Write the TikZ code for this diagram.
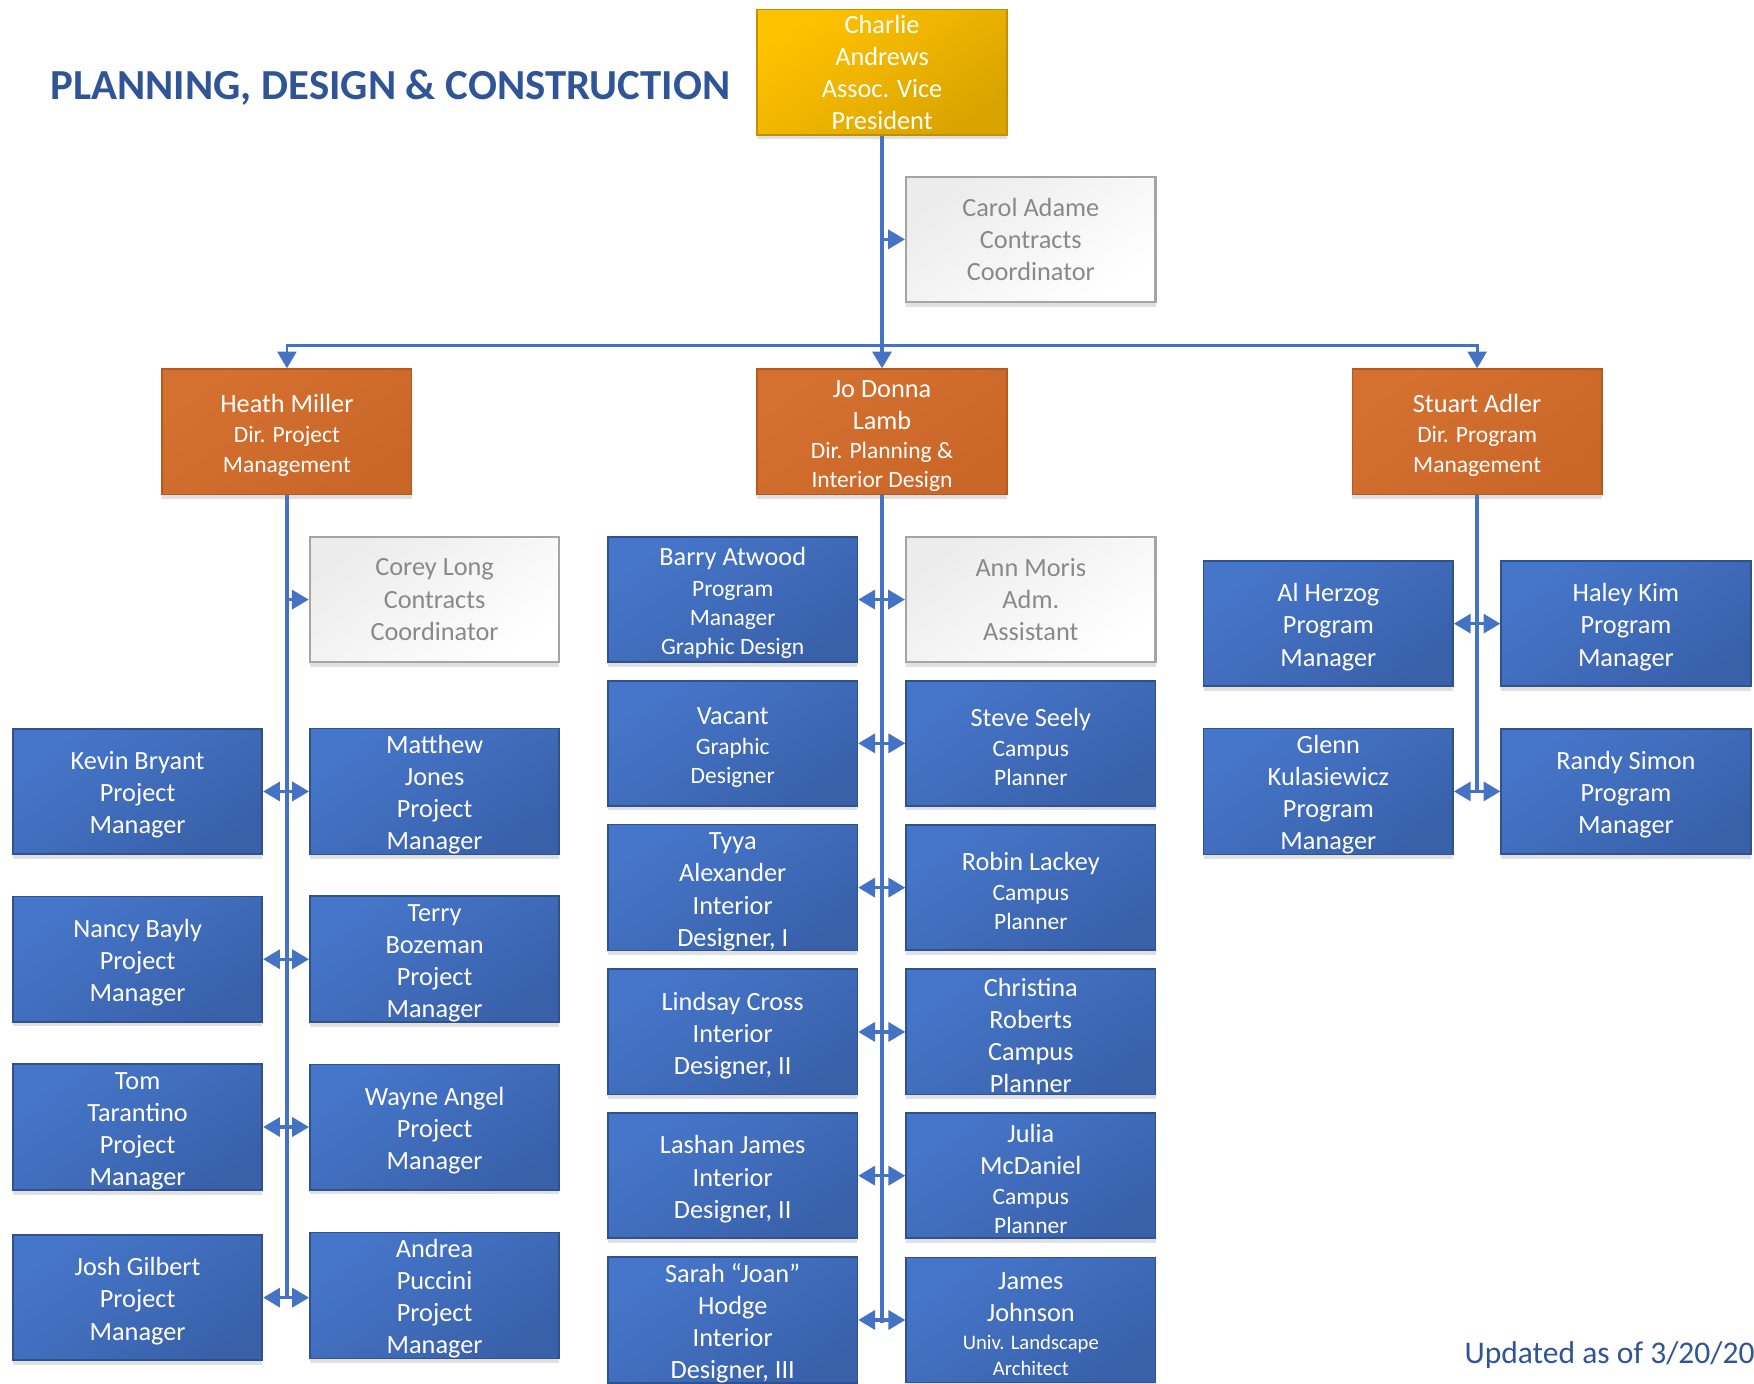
\documentclass[tikz,border=0pt]{standalone}
\usepackage{fontspec}
\setmainfont{Carlito}
\usetikzlibrary{arrows.meta,shadows}
\definecolor{lineblue}{RGB}{68,114,196}
\definecolor{bluetop}{RGB}{70,118,202}
\definecolor{bluebot}{RGB}{57,97,170}
\definecolor{blueedge}{RGB}{47,82,143}
\definecolor{orgtop}{RGB}{212,112,48}
\definecolor{orgbot}{RGB}{202,103,40}
\definecolor{orgedge}{RGB}{182,89,30}
\definecolor{goldtop}{RGB}{255,194,0}
\definecolor{goldbot}{RGB}{218,164,0}
\definecolor{goldedge}{RGB}{191,144,0}
\definecolor{graytop}{RGB}{236,236,236}
\definecolor{graybot}{RGB}{255,255,255}
\definecolor{grayedge}{RGB}{165,165,165}
\definecolor{graytext}{RGB}{137,137,137}
\definecolor{titleblue}{RGB}{47,85,151}
\newcommand\bigf{\fontsize{23.5}{28.7}\selectfont}
\newcommand\smf{\fontsize{21}{26}\selectfont}
\newcommand\tnf{\fontsize{18.5}{23}\selectfont}
\newcommand\up{\rule{0pt}{22.5pt}}
\tikzset{
  basebox/.style={rectangle, minimum width=223pt, minimum height=112pt, inner sep=0pt,
    align=center, font=\bigf, line width=1.5pt,
    drop shadow={shadow xshift=0pt, shadow yshift=-4pt, opacity=0.12, fill=black}},
  bluebox/.style={basebox, draw=blueedge, top color=bluetop, bottom color=bluebot, shading angle=35, text=white},
  orangebox/.style={basebox, draw=orgedge, top color=orgtop, bottom color=orgbot, shading angle=35, text=white},
  goldbox/.style={basebox, draw=goldedge, top color=goldtop, bottom color=goldbot, shading angle=35, text=white},
  graybox/.style={basebox, draw=grayedge, line width=2pt, top color=graytop, bottom color=graybot, shading angle=35, text=graytext, drop shadow={opacity=0}},
  conn/.style={draw=lineblue, line width=3pt},
  hconn/.style={draw=lineblue, line width=2.4pt},
  >={Triangle[length=15pt,width=17pt]}
}
\begin{document}
\begin{tikzpicture}[x=1pt,y=-1pt]
\useasboundingbox (0,0) rectangle (1568,1237);

\node[anchor=west, font=\fontsize{38.3}{46}\selectfont\bfseries, text=titleblue, inner sep=0pt] (title) at (45,78) {PLANNING, DESIGN \& CONSTRUCTION};
\node[anchor=west, font=\fontsize{28.2}{34}\selectfont, text=titleblue, inner sep=0pt] (updated) at (1309,1211) {Updated as of 3/20/20};

% top
\node[goldbox] (charlie) at (788.5,64.5) {Charlie\\Andrews\\Assoc. Vice\\President};
\node[graybox] (carol) at (921.5,214) {Carol Adame\\Contracts\\Coordinator};

% directors
\node[orangebox] (heath) at (256.5,386) {\up Heath Miller\\[-1.7pt]\smf Dir. Project\\[-2.7pt]\smf Management};
\node[orangebox] (jodonna) at (788.5,386) {\up Jo Donna\\Lamb\\[-2.7pt]\smf Dir. Planning \&\\[-2.7pt]\smf Interior Design};
\node[orangebox] (stuart) at (1320.5,386) {\up Stuart Adler\\[-1.7pt]\smf Dir. Program\\[-2.7pt]\smf Management};

% left column
\node[graybox] (corey) at (388.5,536) {Corey Long\\Contracts\\Coordinator};
\node[bluebox] (kevin) at (123,707.5) {\up Kevin Bryant\\Project\\Manager};
\node[bluebox] (matthew) at (388.5,707.5) {\up Matthew\\Jones\\Project\\Manager};
\node[bluebox] (nancy) at (123,857.5) {\up Nancy Bayly\\Project\\Manager};
\node[bluebox] (terry) at (388.5,857.5) {\up Terry\\Bozeman\\Project\\Manager};
\node[bluebox] (tom) at (123,1007.5) {\up Tom\\Tarantino\\Project\\Manager};
\node[bluebox] (wayne) at (388.5,1007.5) {\up Wayne Angel\\Project\\Manager};
\node[bluebox] (josh) at (123,1160) {\up Josh Gilbert\\Project\\Manager};
\node[bluebox] (andrea) at (388.5,1158) {\up Andrea\\Puccini\\Project\\Manager};

% middle column
\node[bluebox] (barry) at (655,536) {\up Barry Atwood\\[-1.7pt]\smf Program\\[-2.7pt]\smf Manager\\[-2.7pt]\smf Graphic Design};
\node[graybox] (ann) at (921.5,536) {Ann Moris\\Adm.\\Assistant};
\node[bluebox] (vacant) at (655,664.5) {\up Vacant\\[-1.7pt]\smf Graphic\\[-2.7pt]\smf Designer};
\node[bluebox] (steve) at (921.5,664.5) {\up Steve Seely\\[-1.7pt]\smf Campus\\[-2.7pt]\smf Planner};
\node[bluebox] (tyya) at (655,793.5) {\up Tyya\\Alexander\\Interior\\Designer, I};
\node[bluebox] (robin) at (921.5,793.5) {\up Robin Lackey\\[-1.7pt]\smf Campus\\[-2.7pt]\smf Planner};
\node[bluebox] (lindsay) at (655,922.5) {\up Lindsay Cross\\Interior\\Designer, II};
\node[bluebox] (christina) at (921.5,922.5) {\up Christina\\Roberts\\Campus\\Planner};
\node[bluebox] (lashan) at (655,1051) {\up Lashan James\\Interior\\Designer, II};
\node[bluebox] (julia) at (921.5,1051) {\up Julia\\McDaniel\\[-1.7pt]\smf Campus\\[-2.7pt]\smf Planner};
\node[bluebox] (sarah) at (655,1180) {\up Sarah “Joan”\\Hodge\\Interior\\Designer, III};
\node[bluebox] (james) at (921.5,1180) {\up James\\Johnson\\[-4pt]\tnf Univ. Landscape\\[-5.7pt]\tnf Architect};

% right column
\node[bluebox] (alherzog) at (1187.5,557.5) {\up Al Herzog\\Program\\Manager};
\node[bluebox] (haley) at (1453.5,557.5) {\up Haley Kim\\Program\\Manager};
\node[bluebox] (glenn) at (1187.5,707.5) {\up Glenn\\Kulasiewicz\\Program\\Manager};
\node[bluebox] (randy) at (1453.5,707.5) {\up Randy Simon\\Program\\Manager};

% connectors
\coordinate (hb) at (788.5,309);
\draw[conn,->] (charlie.south) -- (jodonna.north);
\draw[conn,->] (charlie.south |- carol.west) -- (carol.west);
\draw[hconn,->] (hb) -| (heath.north);
\draw[hconn,->] (hb) -| (stuart.north);

\draw[conn] (heath.south) -- (heath.south |- josh.east);
\draw[conn,->] (heath.south |- corey.west) -- (corey.west);
\draw[conn,<->] (kevin.east) -- (matthew.west);
\draw[conn,<->] (nancy.east) -- (terry.west);
\draw[conn,<->] (tom.east) -- (wayne.west);
\draw[conn,<->] (josh.east) -- (josh.east -| andrea.west);

\draw[conn] (jodonna.south) -- ([yshift=-3pt]jodonna.south |- sarah.east);
\draw[conn,<->] (barry.east) -- (ann.west);
\draw[conn,<->] (vacant.east) -- (steve.west);
\draw[conn,<->] (tyya.east) -- (robin.west);
\draw[conn,<->] (lindsay.east) -- (christina.west);
\draw[conn,<->] (lashan.east) -- (julia.west);
\draw[conn,<->] (sarah.east) -- (james.west);

\draw[conn] (stuart.south) -- (stuart.south |- glenn.east);
\draw[conn,<->] (alherzog.east) -- (haley.west);
\draw[conn,<->] (glenn.east) -- (randy.west);
\end{tikzpicture}
\end{document}
